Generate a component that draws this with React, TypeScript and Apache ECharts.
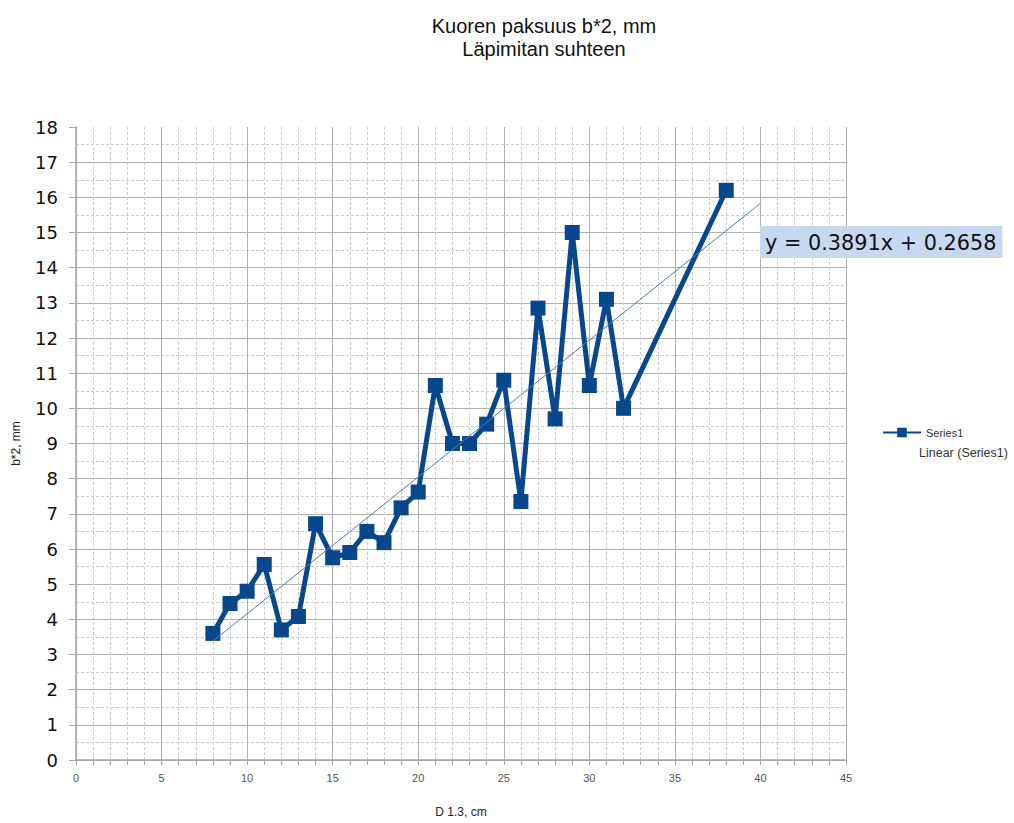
import React, { useEffect, useRef } from "react";
import * as echarts from "echarts";

const titleLines = ["Kuoren paksuus b*2, mm", "Läpimitan suhteen"];
const xValues = [8, 9, 10, 11, 12, 13, 14, 15, 16, 17, 18, 19, 20, 21, 22, 23, 24, 25, 26, 27, 28, 29, 30, 31, 32, 38];
const yValues = [3.6, 4.45, 4.8, 5.56, 3.7, 4.08, 6.72, 5.75, 5.9, 6.5, 6.18, 7.17, 7.62, 10.65, 9.0, 9.0, 9.55, 10.8, 7.35, 12.85, 9.7, 15.0, 10.65, 13.1, 10.0, 16.2];
const trendSlope = 0.3891;
const trendIntercept = 0.2658;
const trendX = [8, 40];
const equationText = "y = 0.3891x + 0.2658";
const seriesName = "Series1";
const trendName = "Linear (Series1)";
const xAxisName = "D 1.3, cm";
const yAxisName = "b*2, mm";

export default function App() {
  const ref = useRef<HTMLDivElement>(null);
  useEffect(() => {
    if (!ref.current) return;
    const chart = echarts.init(ref.current, null, { renderer: "svg" });
    const seriesData = xValues.map((x, i) => [x, yValues[i]]);
    const trendData = trendX.map((x) => [x, trendSlope * x + trendIntercept]);
    const majorLine = { color: "#b0b0b0", width: 1, type: "solid" as const };
    const minorLine = { color: "#cccccc", width: 1, type: [3, 2] as any };
    chart.setOption({
      animation: false,
      backgroundColor: "#ffffff",
      title: {
        text: titleLines.join("\n"),
        left: 539,
        top: 9,
        textAlign: "center",
        textStyle: {
          fontFamily: "Liberation Sans",
          fontSize: 20,
          fontWeight: "normal",
          color: "#111",
          lineHeight: 23,
        },
      },
      legend: [
        {
          data: [seriesName],
          orient: "vertical",
          left: 882,
          top: 427,
          padding: 0,
          itemWidth: 38,
          itemHeight: 12,
          textStyle: { fontFamily: "Liberation Sans", fontSize: 11, color: "#333" },
        },
        {
          data: [{ name: trendName, icon: "none" }],
          orient: "vertical",
          left: 914,
          top: 446,
          padding: 0,
          itemWidth: 0,
          itemHeight: 12,
          textStyle: { fontFamily: "Liberation Sans", fontSize: 12.5, color: "#333" },
        },
      ],
      grid: { left: 76, right: 168, top: 127, bottom: 58, containLabel: false },
      xAxis: {
        type: "value",
        min: 0,
        max: 45,
        interval: 5,
        name: xAxisName,
        nameLocation: "middle",
        nameGap: 46,
        nameTextStyle: { fontFamily: "Liberation Sans", fontSize: 12, color: "#222" },
        axisLine: { show: true, onZero: false, lineStyle: { color: "#a6a6a6", width: 1.5 } },
        axisTick: { show: true, length: 5, lineStyle: { color: "#a6a6a6" } },
        minorTick: { show: true, splitNumber: 5, length: 5, lineStyle: { color: "#a6a6a6" } },
        axisLabel: { fontFamily: "Liberation Sans", fontSize: 11, color: "#555", margin: 12 },
        splitLine: { show: true, lineStyle: majorLine },
        minorSplitLine: { show: true, lineStyle: minorLine },
      },
      yAxis: {
        type: "value",
        min: 0,
        max: 18,
        interval: 1,
        name: yAxisName,
        nameLocation: "middle",
        nameGap: 54,
        nameRotate: 90,
        nameTextStyle: { fontFamily: "Liberation Sans", fontSize: 12, color: "#222" },
        axisLine: { show: true, onZero: false, lineStyle: { color: "#a6a6a6", width: 1.5 } },
        axisTick: { show: true, length: 7, lineStyle: { color: "#a6a6a6" } },
        minorTick: { show: false, splitNumber: 2 },
        axisLabel: { fontFamily: "DejaVu Sans", fontSize: 18, color: "#111", margin: 18 },
        splitLine: { show: true, showMaxLine: false, lineStyle: majorLine },
        minorSplitLine: { show: true, lineStyle: minorLine },
      },
      series: [
        {
          name: seriesName,
          type: "line",
          data: seriesData,
          symbol: "rect",
          symbolSize: 15,
          lineStyle: { color: "#08478b", width: 5 },
          itemStyle: { color: "#08478b" },
          z: 2,
        },
        {
          name: trendName,
          type: "line",
          data: trendData,
          symbol: "none",
          lineStyle: { color: "#4a7ebb", width: 1 },
          itemStyle: { color: "#4a7ebb" },
          z: 3,
        },
      ],
      graphic: [
        {
          type: "text",
          left: 760,
          top: 226,
          z: 10,
          style: {
            text: equationText,
            fontFamily: "DejaVu Sans",
            fontSize: 20.8,
            fill: "#111",
            backgroundColor: "#c6d9f1",
            padding: [6, 6, 5, 5],
          },
        },
      ],
    });
    return () => chart.dispose();
  }, []);
  return (
    <div
      ref={ref}
      style={{ position: "fixed", left: 0, top: 0, width: 1014, height: 823 }}
    />
  );
}
